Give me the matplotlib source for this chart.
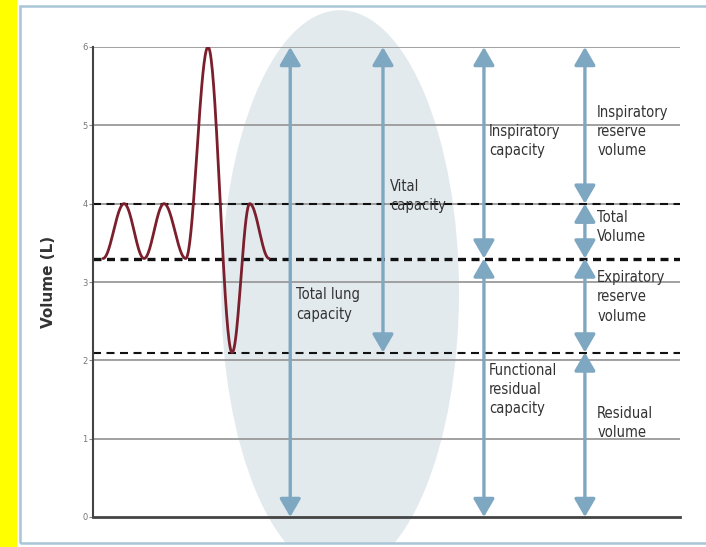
import numpy as np
import matplotlib
matplotlib.use("Agg")
import matplotlib.pyplot as plt
from matplotlib.patches import Rectangle, Ellipse

plt.rcParams['font.family'] = ['DejaVu Sans']

# breathing trace: time (arbitrary units) and volume (L) at each turning point
wave_t = [1.7, 5.3, 8.7, 12.1, 15.8, 19.6, 23.7, 26.7, 30.0]
wave_v = [3.3, 4.0, 3.3, 4.0, 3.3, 6.0, 2.1, 4.0, 3.3]

# reference levels (L)
tlc = 6.0          # total lung capacity
tv_top = 4.0       # end of normal inspiration
frc = 3.3          # functional residual capacity
rv = 2.1           # residual volume
dashed_levels = [tv_top, frc, rv]
dashed_widths = [1.5, 2.4, 1.5]

# arrows: x position, from, to
arrows = [
    (33.6, 0.0, tlc),
    (49.4, rv, tlc),
    (66.6, frc, tlc),
    (66.6, 0.0, frc),
    (83.8, tv_top, tlc),
    (83.8, frc, tv_top),
    (83.8, rv, frc),
    (83.8, 0.0, rv),
]

# labels: text, x, top y
labels = [
    ("Total lung\ncapacity", 34.6, 2.93),
    ("Vital\ncapacity", 50.6, 4.32),
    ("Inspiratory\ncapacity", 67.5, 5.02),
    ("Functional\nresidual\ncapacity", 67.5, 1.97),
    ("Inspiratory\nreserve\nvolume", 85.9, 5.26),
    ("Total\nVolume", 85.9, 3.92),
    ("Expiratory\nreserve\nvolume", 85.9, 3.15),
    ("Residual\nvolume", 85.9, 1.42),
]

W, H = 706, 547
fig = plt.figure(figsize=(W / 100, H / 100), dpi=100)
fig.patch.set_facecolor('white')

# yellow strip and light frame
fig.patches.append(Rectangle((0, 0), 17 / W, 1, transform=fig.transFigure,
                             facecolor='#ffff00', edgecolor='none', zorder=0))
frame = Rectangle((20 / W, 4 / H), 1.0, 537 / H, transform=fig.transFigure,
                  facecolor='none', edgecolor='#a8c6d6', lw=1.8, zorder=5)
fig.patches.append(frame)

ax = fig.add_axes([93 / W, 30 / H, 587 / W, 470 / H])
ax.set_xlim(0, 100)
ax.set_ylim(0, 6)
ax.patch.set_alpha(0)

# big pale ellipse behind everything
ell = Ellipse((42.1, 2.87), 40.5, 7.2, facecolor='#e3eaee', edgecolor='none',
              zorder=0)
ax.add_patch(ell)
ell.set_clip_path(frame)

# grid lines
for y in range(1, 7):
    ax.axhline(y, color='#9a9a9a', lw=1.3, zorder=1)

for y, lw in zip(dashed_levels, dashed_widths):
    on = 8 * 0.72 / lw
    off = 5.5 * 0.72 / lw
    ax.axhline(y, color='#111111', lw=lw, linestyle=(0, (on, off)), zorder=2)

# trace with smooth half-cosine swings between turning points
xs, ys = [], []
for i in range(len(wave_t) - 1):
    s = np.linspace(0, 1, 40)
    xs.append(wave_t[i] + (wave_t[i + 1] - wave_t[i]) * s)
    ys.append(wave_v[i] + (wave_v[i + 1] - wave_v[i]) * (1 - np.cos(np.pi * s)) / 2)
ax.plot(np.concatenate(xs), np.concatenate(ys), color='#7b1f2d', lw=2.0,
        solid_capstyle='round', zorder=4)

for x, y0, y1 in arrows:
    ax.annotate('', xy=(x, y1), xytext=(x, y0),
                arrowprops=dict(arrowstyle='<|-|>,head_length=0.55,head_width=0.32',
                                mutation_scale=20, lw=2.4, color='#7ea7c2',
                                shrinkA=0, shrinkB=0), zorder=3)

for txt, x, y in labels:
    ax.text(x, y, txt, ha='left', va='top', fontsize=10.5, color='#333333',
            fontstretch='condensed', linespacing=1.35, zorder=6)

for side in ['top', 'right']:
    ax.spines[side].set_visible(False)
ax.spines['left'].set_color('#444444')
ax.spines['bottom'].set_color('#444444')
ax.spines['left'].set_linewidth(1.5)
ax.spines['bottom'].set_linewidth(2)
ax.set_xticks([])
ax.set_yticks(range(0, 7))
ax.tick_params(axis='y', length=3, width=0.8, color='#888888', pad=1,
               labelsize=6, labelcolor='#777777')
ax.set_ylabel('Volume (L)', fontsize=11, fontweight='bold', color='#333333',
              labelpad=19)

fig.savefig('out.png', dpi=100)
